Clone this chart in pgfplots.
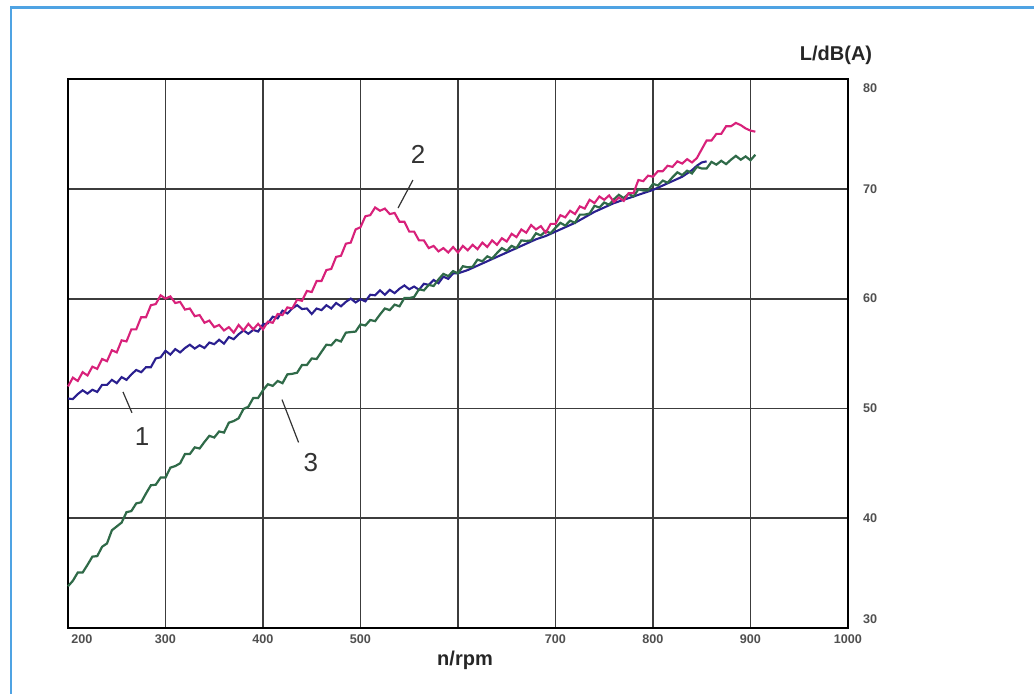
\documentclass[border=0pt]{standalone}
\usepackage{pgfplots}
\pgfplotsset{compat=1.18}
\usepackage{fontspec}
\setmainfont{Liberation Sans}
\definecolor{pinkc}{HTML}{D8217A}
\definecolor{bluec}{HTML}{2A1F8F}
\definecolor{greenc}{HTML}{2F6A48}
\definecolor{framec}{HTML}{4FA3E3}
\definecolor{gridc}{HTML}{3C3C3C}
\definecolor{tickc}{HTML}{505050}
\definecolor{annc}{HTML}{333333}
\newcommand{\tl}{\fontsize{6.3}{7}\selectfont\bfseries}
\begin{document}
\begin{tikzpicture}
\useasboundingbox (-34pt,-32.5pt) rectangle (483pt,314pt);
\fill[white] (-34pt,-32.5pt) rectangle (483pt,314pt);
\draw[framec, line width=1.1pt] (-28.5pt,-40pt) -- (-28.5pt,310.25pt) -- (490pt,310.25pt);
\begin{axis}[
  scale only axis, width=390pt, height=274.5pt,
  at={(0,0)}, anchor=south west,
  xmin=200, xmax=1000, ymin=30, ymax=80,
  xtick={200,300,400,500,600,700,800,900,1000},
  xticklabels={\hspace{14pt}200,300,400,500,,700,800,900,1000\hspace{15pt}},
  ytick={30,40,50,60,70,80},
  yticklabels={\raisebox{4.5pt}[\height][\depth]{30},40,50,60,70,\raisebox{-4.5pt}[\height][\depth]{80}},
  yticklabel pos=right,
  major tick length=0pt,
  xticklabel style={font=\tl, text=tickc},
  yticklabel style={font=\tl, text=tickc, xshift=4pt},
  grid=major,
  major grid style={gridc, line width=0.9pt},
  axis line style={black, line width=1.2pt},
  clip=false,
]
\addplot[bluec, line width=1.05pt] coordinates {
(200,50.9)(205,50.85)(210,51.3)(215,51.65)(220,51.35)(225,51.7)(230,51.5)(235,52.15)(240,52.15)(245,52.6)
(250,52.3)(255,52.85)(260,52.6)(265,53.1)(270,53.5)(275,53.3)(280,53.75)(285,53.75)(290,54.55)(295,54.65)
(300,55.25)(305,54.9)(310,55.4)(315,55.1)(320,55.5)(325,55.8)(330,55.45)(335,55.75)(340,55.5)(345,56.0)
(350,55.85)(355,56.25)(360,55.9)(365,56.5)(370,56.3)(375,56.75)(380,57.1)(385,56.8)(390,57.15)(395,57.0)
(400,57.65)(405,57.75)(410,58.35)(415,58.2)(420,58.9)(425,58.65)(430,59.1)(435,59.4)(440,59.05)(445,59.1)
(450,58.6)(455,59.1)(460,58.95)(465,59.4)(470,59.1)(475,59.6)(480,59.3)(485,59.7)(490,60.0)(495,59.65)
(500,59.95)(505,59.75)(510,60.35)(515,60.3)(520,60.75)(525,60.35)(530,60.8)(535,60.5)(540,60.9)(545,61.2)
(550,60.85)(555,61.1)(560,60.8)(565,61.35)(570,61.25)(575,61.7)(580,61.4)(585,62.0)(590,61.8)(595,62.3)
(600,62.3)(610,62.6)(620,63.0)(630,63.4)(640,63.8)(650,64.2)(660,64.6)(670,65.0)(680,65.4)(690,65.7)
(700,66.1)(710,66.5)(720,66.9)(730,67.4)(740,67.9)(750,68.3)(760,68.7)(770,69.0)(780,69.3)(790,69.6)
(800,69.9)(810,70.3)(820,70.7)(830,71.1)(840,71.7)(845,72.1)(850,72.4)(855,72.5)
};
\addplot[greenc, line width=1.1pt] coordinates {
(200,33.8)(205,34.3)(210,35.05)(215,35.05)(220,35.75)(225,36.5)(230,36.55)(235,37.4)(240,37.7)(245,38.9)
(250,39.25)(255,39.6)(260,40.55)(265,40.65)(270,41.35)(275,41.45)(280,42.25)(285,43.0)(290,43.05)(295,43.7)
(300,43.7)(305,44.6)(310,44.75)(315,45.0)(320,45.85)(325,45.85)(330,46.45)(335,46.35)(340,46.95)(345,47.5)
(350,47.35)(355,47.9)(360,47.8)(365,48.7)(370,48.85)(375,49.1)(380,49.95)(385,50.15)(390,50.95)(395,50.95)
(400,51.65)(405,52.2)(410,52.05)(415,52.5)(420,52.3)(425,53.1)(430,53.15)(435,53.25)(440,53.95)(445,53.95)
(450,54.55)(455,54.5)(460,55.15)(465,55.8)(470,55.75)(475,56.25)(480,56.1)(485,56.9)(490,56.95)(495,57.0)
(500,57.65)(505,57.55)(510,58.05)(515,57.95)(520,58.55)(525,59.1)(530,58.95)(535,59.45)(540,59.3)(545,60.05)
(550,60.05)(555,60.15)(560,60.85)(565,60.75)(570,61.25)(575,61.15)(580,61.75)(585,62.25)(590,62.05)(595,62.5)
(600,62.3)(605,62.95)(610,62.85)(615,62.9)(620,63.55)(625,63.4)(630,63.85)(635,63.65)(640,64.15)(645,64.6)
(650,64.35)(655,64.8)(660,64.6)(665,65.3)(670,65.25)(675,65.3)(680,65.95)(685,65.75)(690,66.15)(695,65.95)
(700,66.45)(705,66.9)(710,66.65)(715,67.1)(720,66.9)(725,67.65)(730,67.65)(735,67.75)(740,68.45)(745,68.3)
(750,68.75)(755,68.55)(760,69.05)(765,69.45)(770,69.15)(775,69.55)(780,69.3)(785,69.95)(790,69.85)(795,69.85)
(800,70.45)(805,70.3)(810,70.75)(815,70.55)(820,71.05)(825,71.5)(830,71.25)(835,71.65)(840,71.4)(845,72.0)
(850,71.85)(855,71.85)(860,72.45)(865,72.2)(870,72.55)(875,72.25)(880,72.65)(885,73.0)(890,72.65)(895,72.95)
(900,72.6)(905,73.1)
};
\addplot[pinkc, line width=1.05pt] coordinates {
(200,52.0)(205,52.8)(210,52.5)(215,53.3)(220,53.0)(225,53.8)(230,53.6)(235,54.5)(240,54.3)(245,55.3)
(250,55.1)(255,56.2)(260,56.1)(265,57.2)(270,57.2)(275,58.3)(280,58.3)(285,59.4)(290,59.5)(295,60.3)
(300,60.0)(305,60.2)(310,59.6)(315,59.7)(320,59.0)(325,59.1)(330,58.4)(335,58.5)(340,57.8)(345,58.0)
(350,57.4)(355,57.6)(360,57.1)(365,57.4)(370,56.9)(375,57.6)(380,57.1)(385,57.7)(390,57.2)(395,57.7)
(400,57.2)(405,57.9)(410,57.8)(415,58.6)(420,58.5)(425,59.2)(430,59.1)(435,59.9)(440,59.8)(445,60.7)
(450,60.6)(455,61.6)(460,61.6)(465,62.6)(470,62.7)(475,63.8)(480,63.9)(485,65.0)(490,65.1)(495,66.3)
(500,66.5)(505,67.5)(510,67.6)(515,68.3)(520,68.0)(525,68.2)(530,67.7)(535,67.8)(540,67.0)(545,67.0)
(550,66.1)(555,66.1)(560,65.3)(565,65.3)(570,64.6)(575,64.8)(580,64.3)(585,64.6)(590,64.2)(595,64.7)
(600,64.2)(605,64.8)(610,64.4)(615,64.9)(620,64.5)(625,65.1)(630,64.7)(635,65.3)(640,64.9)(645,65.5)
(650,65.2)(655,65.9)(660,65.6)(665,66.3)(670,66.0)(675,66.7)(680,66.3)(685,66.6)(690,66.0)(695,66.8)
(700,66.8)(705,67.6)(710,67.4)(715,68.0)(720,67.7)(725,68.4)(730,68.2)(735,69.0)(740,68.7)(745,69.3)
(750,69.0)(755,69.4)(760,68.8)(765,69.2)(770,68.9)(775,69.6)(780,69.6)(785,70.8)(790,70.7)(795,71.2)
(800,71.1)(805,71.6)(810,71.6)(815,72.1)(820,72.0)(825,72.5)(830,72.3)(835,72.7)(840,72.4)(845,72.8)
(850,73.6)(855,74.4)(860,74.4)(865,75.0)(870,75.0)(875,75.7)(880,75.7)(885,76.0)(890,75.8)(895,75.5)
(900,75.3)(905,75.2)
};
\draw[annc, line width=0.6pt] (axis cs:256.4,51.5) -- (axis cs:265.6,49.6);
\node[annc, font=\fontsize{13}{15}\selectfont] at (axis cs:275.9,47.4) {1};
\draw[annc, line width=0.6pt] (axis cs:553.8,70.8) -- (axis cs:538.5,68.25);
\node[annc, font=\fontsize{13}{15}\selectfont] at (axis cs:559,73.1) {2};
\draw[annc, line width=0.6pt] (axis cs:419.5,50.8) -- (axis cs:436.5,46.9);
\node[annc, font=\fontsize{13}{15}\selectfont] at (axis cs:449,45.1) {3};
\end{axis}
\node[font=\fontsize{10}{12}\selectfont\bfseries, text=black!85] at (384pt,286.5pt) {L/dB(A)};
\node[font=\fontsize{10}{12}\selectfont\bfseries, text=black!85] at (198.5pt,-16pt) {n/rpm};
\end{tikzpicture}
\end{document}
